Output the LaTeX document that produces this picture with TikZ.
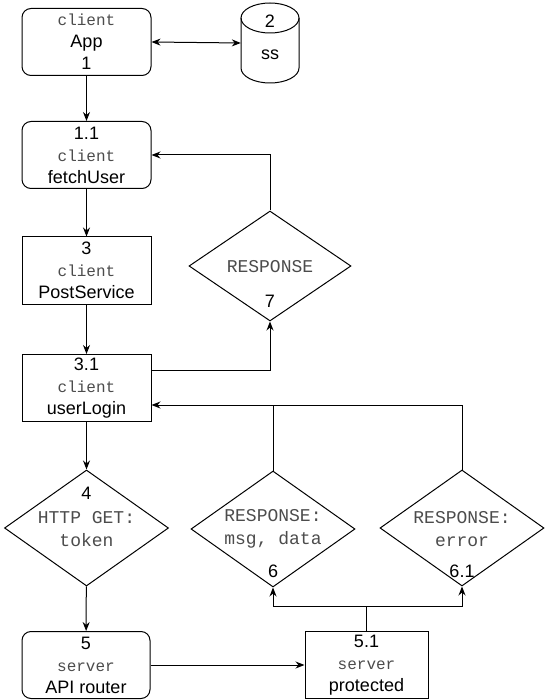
\documentclass[tikz,border=0pt]{standalone}
\usepackage{fontspec}
\setmainfont{Liberation Sans}
\newfontfamily\cour{Liberation Mono}
\usetikzlibrary{shapes.geometric,arrows.meta}

\begin{document}
\begin{tikzpicture}[
  x=1pt,y=-1pt,
  every node/.style={font=\fontsize{18}{22}\selectfont,text=black},
  box/.style={draw,line width=1pt,minimum width=129pt,minimum height=67pt,
    inner sep=0pt,align=center},
  rbox/.style={box,rounded corners=9pt},
  choice/.style={diamond,draw,line width=1pt,inner sep=0pt,
    minimum width=164pt,minimum height=116pt},
  code/.style={font=\cour\fontsize{18}{23}\selectfont,text=black!70,align=center},
  flow/.style={line width=1pt,-{Stealth[length=9pt,width=7pt]}},
  link/.style={line width=1pt}
  ]
  \useasboundingbox (0,0) rectangle (545,700);

  % client side
  \node[rbox] (app) at (86.5,42)
    {{\cour\fontsize{16}{22}\selectfont\color{black!70}client}\\App\\1};
  \node[minimum width=58pt,minimum height=80pt,inner sep=0pt] (ss) at (270,43) {};
  \draw[link] (270,18) ellipse [x radius=29pt,y radius=15pt];
  \draw[link] (241,18) -- (241,68)
    arc [start angle=180,end angle=360,x radius=29pt,y radius=15pt] -- (299,18);
  \node (ssnum) at (270,21) {2};
  \node (ssname) at (270,55) {ss};
  \node[rbox] (fetch) at (86.5,155)
    {1.1\\{\cour\fontsize{16}{22}\selectfont\color{black!70}client}\\fetchUser};
  \node[box] (post) at (86.5,270.5)
    {3\\{\cour\fontsize{16}{22}\selectfont\color{black!70}client}\\PostService};
  \node[box] (login) at (86.5,388)
    {3.1\\{\cour\fontsize{16}{22}\selectfont\color{black!70}client}\\userLogin};

  % responses
  \node[choice,minimum height=110pt,minimum width=162pt] (resp) at (270,266) {};
  \node[code] (resptxt) at (270,267) {RESPONSE};
  \node (respnum) at (270,301) {7};

  \node[choice] (get) at (86.5,528) {};
  \node (getnum) at (86.5,493) {4};
  \node[code] (gettxt) at (86.5,529) {HTTP GET:\\token};

  \node[choice] (ok) at (273,529) {};
  \node[code] (oktxt) at (273,529) {RESPONSE:\\msg, data};
  \node (oknum) at (273,571) {6};

  \node[choice] (err) at (462,528) {};
  \node[code] (errtxt) at (462,529) {RESPONSE:\\error};
  \node (errnum) at (462,571) {6.1};

  % server side
  \node[rbox,minimum width=128pt] (api) at (86,665)
    {5\\{\cour\fontsize{16}{22}\selectfont\color{black!70}server}\\API router};
  \node[box,minimum width=123pt] (prot) at (366.5,665)
    {5.1\\{\cour\fontsize{16}{22}\selectfont\color{black!70}server}\\protected};

  % connectors
  \draw[flow,{Stealth[length=9pt,width=7pt]}-{Stealth[length=9pt,width=7pt]}]
    (app.east) -- (ss.west);
  \draw[flow] (app) -- (fetch);
  \draw[flow] (fetch) -- (post);
  \draw[flow] (post) -- (login);
  \draw[flow] ([yshift=17.5pt]login.east) -| (resp.south);
  \draw[flow] (resp.north) |- (fetch.east);
  \draw[flow] (login) -- (get);
  \draw[flow] (get) -- (api);
  \draw[flow] (api) -- (prot);

  \draw[link] (prot.north) -- ++(0,-25) coordinate (split);
  \draw[flow] (split) -| (ok.south);
  \draw[flow] (split) -| (err.south);

  \coordinate (back) at ([yshift=-17pt]login.east);
  \draw[flow] (err.north) |- (back);
  \draw[link] (ok.north) -- (ok.north |- back);
\end{tikzpicture}
\end{document}
